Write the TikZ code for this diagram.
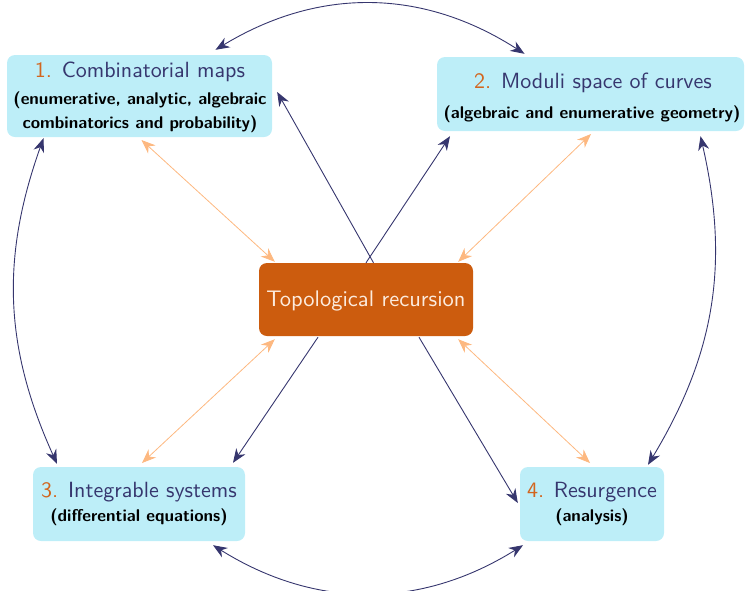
\documentclass[tikz,border=0pt]{standalone}
\usepackage{fontspec}
\setsansfont{lmsans10-regular.otf}[BoldFont=lmsans10-bold.otf]
\usetikzlibrary{arrows.meta,calc}
\definecolor{boxc}{HTML}{BDEEF8}
\definecolor{centc}{HTML}{CC5C0E}
\definecolor{navy}{HTML}{36366E}
\definecolor{numc}{HTML}{D2651E}
\definecolor{lorange}{HTML}{FDB880}
\definecolor{centtext}{HTML}{FCEBDD}
\newcommand{\ttlfont}{\sffamily\fontsize{22}{26}\selectfont}
\newcommand{\ctrfont}{\sffamily\fontsize{22.5}{27}\selectfont}
\newcommand{\subfont}{\sffamily\bfseries\fontsize{17}{20}\selectfont}
\begin{document}
\begin{tikzpicture}[x=1pt,y=-1pt,
  cbox/.style={fill=boxc, rounded corners=8pt, inner sep=0pt},
  ttl/.style={anchor=base, inner sep=0pt, text=navy, font=\ttlfont},
  sub/.style={anchor=base, inner sep=0pt, text=black, font=\subfont},
  navyarr/.style={draw=navy, line width=0.9pt, -{Stealth[length=14pt,width=11pt,inset=4.5pt]}},
  navyboth/.style={draw=navy, line width=0.9pt, {Stealth[length=14pt,width=11pt,inset=4.5pt]}-{Stealth[length=14pt,width=11pt,inset=4.5pt]}},
  orangeboth/.style={draw=lorange, line width=0.8pt, {Stealth[length=14pt,width=11pt,inset=4.5pt]}-{Stealth[length=14pt,width=11pt,inset=4.5pt]}}
]
\useasboundingbox (0,0) rectangle (746,590);
% boxes
\node[cbox, minimum width=265pt, minimum height=82pt] (b1) at (139.5,96) {};
\node[cbox, minimum width=307pt, minimum height=74pt] (b2) at (590.5,94) {};
\node[cbox, minimum width=212pt, minimum height=74pt] (b3) at (139,504) {};
\node[cbox, minimum width=144pt, minimum height=74pt] (b4) at (592,504) {};
\node[fill=centc, rounded corners=8pt, minimum width=214pt, minimum height=73pt, inner sep=0pt] (c) at (366,299.5) {};
% texts
\node[ttl] (t1) at (140,77) {\textcolor{numc}{1.} Combinatorial maps};
\node[sub] (s1a) at (140,104) {(enumerative, analytic, algebraic};
\node[sub] (s1b) at (140,128) {combinatorics and probability)};
\node[ttl] (t2) at (593,88) {\textcolor{numc}{2.} Moduli space of curves};
\node[sub] (s2) at (592,118) {(algebraic and enumerative geometry)};
\node[ttl] (t3) at (139,497) {\textcolor{numc}{3.} Integrable systems};
\node[sub] (s3) at (139,521) {(differential equations)};
\node[ttl] (t4) at (592,497) {\textcolor{numc}{4.} Resurgence};
\node[sub] (s4) at (592,521) {(analysis)};
\node[anchor=base, inner sep=0pt, text=centtext, font=\ctrfont] (tc) at (366,306) {Topological recursion};
% coordinates
\coordinate (b1top) at ([xshift=76pt,yshift=5pt]b1.north);
\coordinate (b2top) at ([xshift=-66pt,yshift=3pt]b2.north);
\coordinate (b1bl) at ([xshift=-96pt,yshift=-1pt]b1.south);
\coordinate (b3tl) at ([xshift=-82pt,yshift=3pt]b3.north);
\coordinate (b2br) at ([xshift=110pt,yshift=-5pt]b2.south);
\coordinate (b4tr) at ([xshift=56pt,yshift=2pt]b4.north);
\coordinate (b3bot) at ([xshift=74pt,yshift=-4pt]b3.south);
\coordinate (b4bot) at ([xshift=-69pt,yshift=-4pt]b4.south);
% outer curved arrows
\draw[navyboth] (b1top) to[bend left=32] (b2top);
\draw[navyboth] (b1bl) to[bend right=22] (b3tl);
\draw[navyboth] (b2br) to[bend left=22] (b4tr);
\draw[navyboth] (b3bot) to[bend right=32] (b4bot);
% centre arrows
\coordinate (c1) at ([xshift=7.5pt]c.north);
\coordinate (c2) at (c.north);
\coordinate (c3) at ([xshift=-48pt,yshift=-1pt]c.south);
\coordinate (c4) at ([xshift=53pt,yshift=-1pt]c.south);
\coordinate (e1) at ([xshift=5pt,yshift=4pt]b1.east);
\coordinate (e2) at ([xshift=-140.5pt,yshift=-5pt]b2.south);
\coordinate (e3) at ([xshift=94pt,yshift=4pt]b3.north);
\coordinate (e4) at ([xshift=-2pt,yshift=1pt]b4.west);
\draw[navyarr] (c1) -- (e1);
\draw[navyarr] (c2) -- (e2);
\draw[navyarr] (c3) -- (e3);
\draw[navyarr] (c4) -- (e4);
% orange arrows
\coordinate (o1a) at (141.5,140);
\coordinate (o2a) at (591,134);
\coordinate (o3a) at (142,463);
\coordinate (o4a) at (590,463);
\draw[orangeboth] (o1a) -- ([xshift=16pt,yshift=1pt]c.north west);
\draw[orangeboth] (o2a) -- ([xshift=-15pt,yshift=1pt]c.north east);
\draw[orangeboth] (o3a) -- ([xshift=16pt,yshift=-3pt]c.south west);
\draw[orangeboth] (o4a) -- ([xshift=-15pt,yshift=-3pt]c.south east);
\end{tikzpicture}
\end{document}
